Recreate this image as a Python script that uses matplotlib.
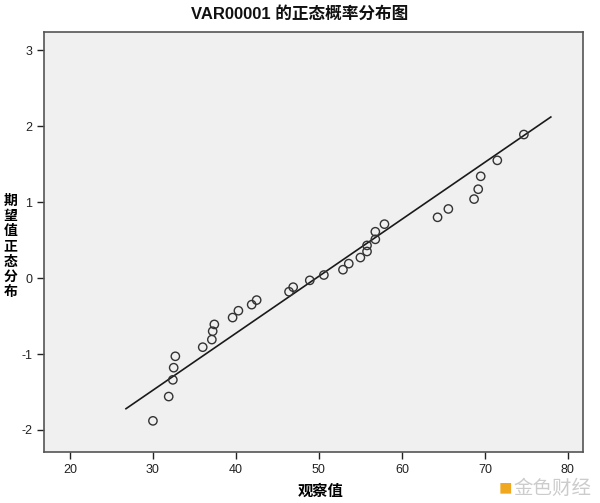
import numpy as np
import matplotlib.pyplot as plt

plt.rcParams['font.family'] = ['Liberation Sans', 'Noto Sans CJK SC', 'DejaVu Sans']
plt.rcParams['axes.unicode_minus'] = False

observed = [30.0, 31.9, 32.4, 32.5, 32.7, 36.0, 37.1, 37.2, 37.4, 39.6, 40.3, 41.9,
            42.5, 46.4, 46.9, 48.9, 50.6, 52.9, 53.6, 55.0, 55.8, 55.8, 56.8, 56.8,
            57.9, 64.3, 65.6, 68.7, 69.2, 69.5, 71.5, 74.7]
expected = [-1.88, -1.56, -1.34, -1.18, -1.03, -0.91, -0.81, -0.70, -0.61, -0.52, -0.43, -0.35,
            -0.29, -0.18, -0.12, -0.03, 0.04, 0.11, 0.19, 0.27, 0.35, 0.43, 0.51, 0.61,
            0.71, 0.80, 0.91, 1.04, 1.17, 1.34, 1.55, 1.89]
mean, sd = 49.68, 13.33
line_x = [26.75, 77.95]
xticks = [20, 30, 40, 50, 60, 70, 80]
yticks = [-2, -1, 0, 1, 2, 3]

fig = plt.figure(figsize=(6, 5.03), dpi=100)
ax = fig.add_axes([0.0733, 0.1014, 0.898, 0.835])
ax.set_facecolor('#f0f0f0')

lx = np.array(line_x)
ax.plot(lx, (lx - mean) / sd, color='#1a1a1a', lw=1.2)
ax.scatter(observed, expected, s=36, facecolors='none', edgecolors='#333333', linewidths=1.0, zorder=3)

ax.set_xlim(16.87, 81.8)
ax.set_ylim(-2.29, 3.24)
ax.set_xticks(xticks)
ax.set_yticks(yticks)
ax.tick_params(direction='out', length=5, width=1, labelsize=9, colors='#222222')
for s in ax.spines.values():
    s.set_color('#555555')
    s.set_linewidth(1.2)

fig.text(0.5, 0.973, 'VAR00001 的正态概率分布图', ha='center', va='center',
         fontsize=12, fontweight='bold', color='#111111')
fig.text(0.535, 0.025, '观察值', ha='center', va='center', fontsize=11, fontweight='bold',
         family=['Noto Sans CJK SC'])
fig.text(0.018, 0.51, '\n'.join('期望值正态分布'), ha='center', va='center', fontsize=10,
         fontweight='bold', family=['Noto Sans CJK SC'], linespacing=1.1)

# watermark
fig.text(0.842, 0.028, '■', color='#f0a820', fontsize=16, ha='center', va='center')
fig.text(0.92, 0.028, '金色财经', color='#cccccc', fontsize=14, ha='center', va='center',
         family=['Noto Sans CJK SC'])

fig.savefig('out.png', dpi=100)
